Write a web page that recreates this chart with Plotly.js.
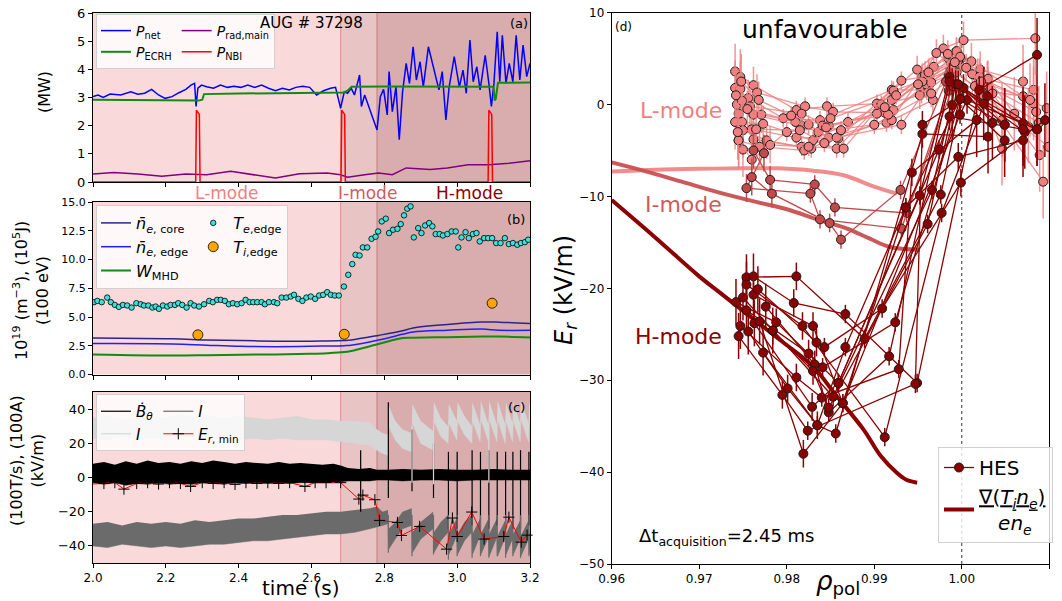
<!DOCTYPE html>
<html><head><meta charset="utf-8">
<script src="https://cdn.plot.ly/plotly-3.0.1.min.js"></script>
<style>body{margin:0;padding:0;background:#fff}#chart{width:1062px;height:601px}</style>
</head><body><div id="chart"></div>
<script>
// ---------------- panel (a) ----------------
const pnetT = [2.000,2.014,2.028,2.047,2.076,2.104,2.123,2.142,2.161,2.180,2.198,2.217,2.236,2.255,2.269,2.279,2.283,2.288,2.298,2.312,2.331,2.350,2.369,2.387,2.406,2.425,2.444,2.463,2.482,2.501,2.520,2.539,2.557,2.576,2.595,2.614,2.633,2.652,2.666,2.680,2.690,2.699,2.709,2.718,2.732,2.737,2.746,2.756,2.770,2.780,2.789,2.798,2.808,2.813,2.822,2.832,2.841,2.850,2.860,2.869,2.879,2.888,2.898,2.907,2.921,2.935,2.950,2.959,2.969,2.978,2.992,3.006,3.016,3.025,3.035,3.044,3.054,3.063,3.077,3.087,3.094,3.101,3.110,3.117,3.124,3.134,3.143,3.153,3.162,3.172,3.181,3.191,3.200];
const pnetV = [3.03,3.09,3.00,3.12,3.09,3.20,3.12,3.15,3.29,3.09,2.97,3.03,3.17,3.29,3.44,3.50,2.68,3.33,3.44,3.38,3.33,3.44,3.36,3.40,3.36,3.44,3.36,3.44,3.33,3.24,3.33,3.27,3.36,3.40,3.36,3.09,3.24,3.33,3.36,2.62,3.20,3.15,3.33,3.09,3.80,2.68,3.09,2.74,2.20,1.85,3.03,3.29,2.38,3.92,2.50,3.38,1.50,3.20,4.21,3.50,4.80,3.62,4.27,3.38,4.80,4.09,3.27,3.92,2.20,3.38,4.45,3.38,3.97,3.15,5.04,3.56,4.09,3.27,4.50,3.50,2.68,3.50,5.33,3.56,5.21,3.50,4.21,3.56,5.21,3.62,4.86,3.74,4.21];
const ecrhT = [2.0,2.1,2.2,2.29,2.300,2.305,2.4,2.5,2.6,2.69,2.70,2.71,2.8,2.9,3.0,3.100,3.103,3.106,3.112,3.15,3.2];
const ecrhV = [2.92,2.91,2.90,2.89,2.92,3.12,3.14,3.16,3.17,3.18,3.25,3.38,3.39,3.38,3.38,3.38,2.90,2.95,3.52,3.53,3.53];
const pradT = [2.0,2.057,2.123,2.189,2.255,2.312,2.378,2.425,2.501,2.567,2.643,2.680,2.699,2.746,2.784,2.822,2.860,2.926,2.973,3.030,3.087,3.143,3.2];
const pradV = [0.28,0.34,0.28,0.20,0.28,0.26,0.38,0.28,0.14,0.29,0.32,0.26,0.17,0.26,0.32,0.26,0.50,0.44,0.50,0.61,0.61,0.67,0.75];
const nbiT = [2.0,2.282,2.284,2.288,2.292,2.294,2.681,2.683,2.687,2.691,2.693,3.085,3.087,3.091,3.095,3.097,3.2];
const nbiV = [0,0,2.55,2.45,2.40,0,0,2.55,2.45,2.40,0,0,2.55,2.45,2.40,0,0];

// ---------------- panel (b) ----------------
const neT = [2.0,2.217,2.312,2.406,2.501,2.595,2.643,2.690,2.709,2.784,2.850,2.879,2.973,3.068,3.115,3.2];
const neCore = [3.17,3.10,3.00,2.95,2.90,2.90,2.92,2.96,3.00,3.40,3.80,4.05,4.35,4.56,4.55,4.44];
const neEdge = [2.69,2.66,2.55,2.45,2.42,2.45,2.48,2.51,2.55,3.00,3.50,3.70,3.85,3.95,3.85,3.85];
const wMhd = [1.75,1.65,1.68,1.72,1.75,1.80,1.85,1.95,2.05,2.65,3.17,3.20,3.25,3.30,3.30,3.22];
const teT = [2.003,2.012,2.024,2.039,2.049,2.060,2.071,2.082,2.094,2.106,2.119,2.131,2.140,2.152,2.163,2.172,2.181,2.192,2.204,2.213,2.225,2.234,2.245,2.257,2.268,2.278,2.291,2.305,2.319,2.329,2.341,2.351,2.362,2.373,2.384,2.396,2.408,2.419,2.430,2.440,2.451,2.463,2.472,2.483,2.497,2.506,2.518,2.531,2.543,2.552,2.564,2.575,2.586,2.598,2.610,2.621,2.632,2.643,2.653,2.664,2.675,2.689,2.701,2.712,2.721,2.732,2.741,2.753,2.765,2.776,2.783,2.793,2.804,2.813,2.824,2.836,2.845,2.854,2.863,2.872,2.881,2.893,2.902,2.912,2.923,2.932,2.941,2.952,2.961,2.973,2.985,2.996,3.003,3.012,3.023,3.032,3.043,3.053,3.062,3.074,3.085,3.096,3.107,3.119,3.131,3.142,3.153,3.165,3.175,3.186,3.195];
const teV = [6.29,6.40,6.29,6.69,6.29,6.05,5.88,6.05,6.00,5.82,6.20,6.11,6.00,6.00,5.82,5.91,5.71,6.00,5.91,6.05,6.05,6.20,6.05,5.82,6.20,6.00,5.91,6.11,6.40,6.29,6.49,6.49,6.40,6.11,6.20,6.11,6.20,6.49,6.29,6.29,6.29,6.29,6.11,6.29,6.29,6.20,6.69,6.69,6.78,6.93,6.58,6.40,6.69,6.78,6.58,6.87,6.93,7.16,6.93,6.87,6.87,7.65,8.67,9.60,10.41,10.35,11.05,11.05,11.80,11.98,12.44,13.31,13.55,12.30,12.59,12.67,13.08,13.84,14.42,14.62,11.92,12.73,12.30,12.96,13.17,12.88,12.21,12.21,12.09,12.21,12.44,12.44,11.05,11.92,12.38,11.86,12.21,12.30,11.57,11.86,11.86,11.86,11.43,11.43,11.86,11.34,11.43,11.28,11.43,11.51,11.72];
const tiT = [2.288,2.690,3.096];
const tiV = [3.45,3.50,6.20];
const tiErr = [0.25,0.25,0.3];

// ---------------- panel (c) ----------------
const bdT = [2.0,2.03,2.06,2.09,2.12,2.15,2.18,2.21,2.24,2.27,2.30,2.33,2.36,2.39,2.42,2.45,2.48,2.51,2.54,2.57,2.60,2.63,2.66,2.68,2.70,2.73,2.76,2.78,2.81,2.85,2.90,2.95,3.0,3.05,3.10,3.15,3.2];
const bdHi = [8,9,7.5,9.5,8,10,8.5,9,8,9.5,8.5,10,9,8,9,8.5,8,9,8,8.5,8,7.5,8,7,5.5,5,5.5,4.5,4.5,5,4.5,5,4.5,4.5,5,4.5,4.5];
const bdLo = [-3,-4,-3,-4.5,-3.5,-4,-3,-4,-3.5,-4,-3,-3.5,-4,-3,-3.5,-3,-3.5,-3,-3.5,-3,-3,-3,-3,-2.5,-2,-2,-2,-1.5,-1.5,-2,-1.5,-1.5,-2,-1.5,-1.5,-1.5,-1.5];
const bandT = [2.0,2.04,2.08,2.12,2.16,2.2,2.24,2.28,2.32,2.36,2.4,2.44,2.48,2.52,2.56,2.6,2.64,2.68,2.72,2.76,2.78,2.795,2.810,2.812,2.83,2.85,2.875,2.877,2.90,2.934,2.936,2.955,2.975,2.977,2.999,3.001,3.02,3.040,3.042,3.063,3.065,3.086,3.088,3.109,3.111,3.132,3.134,3.152,3.154,3.173,3.175,3.196,3.198,3.2];
const ilHi = [35,36,34,35,36,35,37,35,36,35,36,35,34,35,36,34,34,33,33,32,28,26,25,42,33,28,26,43,33,27,44,35,30,43,33,44,36,30,44,31,45,31,45,31,45,31,44,32,44,32,45,32,44,42];
const ilLo = [23,22,24,22,23,22,23,24,22,23,22,23,22,23,22,22,22,21,20,19,16,14,13,30,22,17,15,32,20,16,33,24,20,32,22,33,25,20,33,21,34,21,34,21,34,20,33,21,33,21,34,21,33,32];
const dkHi = [-27,-26,-28,-26,-27,-26,-27,-25,-26,-25,-24,-24,-23,-22,-22,-21,-20,-20,-19,-18,-17,-20,-19,-30,-26,-20,-18,-32,-26,-20,-32,-26,-22,-33,-24,-33,-26,-22,-33,-24,-33,-24,-33,-24,-34,-25,-33,-25,-33,-25,-34,-25,-33,-32];
const dkLo = [-40,-41,-39,-40,-41,-40,-41,-40,-39,-39,-38,-37,-37,-36,-35,-34,-33,-33,-32,-30,-29,-28,-27,-42,-36,-30,-28,-44,-36,-30,-44,-37,-32,-45,-34,-45,-37,-32,-45,-34,-45,-35,-46,-35,-46,-35,-45,-36,-45,-36,-46,-36,-45,-44];
const elmT = [2.735,2.811,2.876,2.935,2.976,3.000,3.041,3.064,3.087,3.110,3.133,3.153,3.174,3.197];
const elmBdHi = [16,44,28,20,15,15,16,15,16,15,15,15,16,15];
const elmBdLo = [-20,-12,-8,-12,-30,-30,-28,-30,-30,-28,-30,-30,-30,-28];
const elmIlT = [2.876,2.935,3.087];
const elmIlHi = [30,30,30];
const elmIlLo = [-3,-4,-3];
const elmDkT = [2.811,2.876,2.935,2.976,3.000,3.041,3.064,3.087,3.110,3.133,3.153,3.174,3.197];
const elmDkHi = [-22,-22,-22,-22,-22,-22,-22,-22,-22,-22,-22,-22,-22];
const elmDkLo = [-44,-46,-45,-48,-46,-47,-46,-47,-46,-47,-46,-47,-46];
const erT = [1.985,2.03,2.06,2.085,2.12,2.15,2.18,2.21,2.24,2.268,2.30,2.33,2.36,2.39,2.42,2.45,2.48,2.51,2.54,2.582,2.61,2.64,2.68,2.730,2.741,2.774,2.787,2.836,2.847,2.897,2.971,2.987,3.000,3.040,3.074,3.128,3.142,3.176,3.192];
const erV = [-4.0,-3.5,-3.0,-6.8,-3.5,-3.0,-3.8,-3.0,-3.5,-5.2,-3.0,-3.5,-3.0,-4.0,-3.0,-3.5,-3.0,-3.5,-3.0,-5.2,-3.0,-3.0,-3.0,-12.6,-10.3,-13.0,-25.1,-26.3,-33.9,-28.6,-41.9,-23.7,-34.5,-20.2,-36.0,-34.5,-23.2,-37.8,-33.7];

// ---------------- panel (d) ----------------
const gradLRho = [0.960,0.965,0.970,0.975,0.979,0.983,0.9865,0.9899,0.9926];
const gradLEr = [-7.3,-7.1,-7.0,-6.95,-6.95,-7.2,-7.7,-8.9,-9.7];
const gradIRho = [0.960,0.964,0.968,0.972,0.9765,0.980,0.9835,0.9869,0.9895,0.9918,0.9952];
const gradIEr = [-6.3,-7.3,-8.4,-9.5,-10.6,-11.4,-12.5,-13.5,-14.6,-15.5,-15.8];
const gradHRho = [0.960,0.965,0.970,0.9724,0.9792,0.983,0.9855,0.9888,0.9907,0.9926,0.9936,0.9949];
const gradHEr = [-10.4,-14.5,-18.7,-20.5,-25.6,-28.5,-31.5,-35.4,-38.2,-40.1,-40.8,-41.15];
const lRho = [
[0.9741,0.9762,0.9811,0.9846,0.9903,0.9949,0.9979,1.0002,1.0084],
[0.9747,0.9766,0.9821,0.9853,0.9912,0.9968,0.9994,1.0021,1.0070],
[0.9741,0.9756,0.9796,0.9838,0.9920,0.9954,0.9985,1.0029,1.0082],
[0.9747,0.9758,0.9817,0.9848,0.9922,0.9960,0.9999,1.0021,1.0070],
[0.9743,0.9762,0.9817,0.9836,0.9914,0.9967,0.9994,1.0011,1.0082],
[0.9749,0.9771,0.9825,0.9848,0.9920,0.9971,0.9990,1.0018,1.0097],
[0.9745,0.9760,0.9811,0.9859,0.9931,0.9955,0.9988,1.0030,1.0046],
[0.9741,0.9773,0.9830,0.9857,0.9922,0.9961,0.9996,1.0025,1.0085],
[0.9749,0.9762,0.9817,0.9870,0.9920,0.9958,0.9984,1.0012,1.0046],
[0.9750,0.9777,0.9828,0.9841,0.9916,0.9959,0.9992,1.0020,1.0089],
[0.9745,0.9769,0.9820,0.9857,0.9931,0.9965,0.9994,1.0020,1.0093],
[0.9750,0.9781,0.9825,0.9865,0.9908,0.9952,0.9985,1.0025,1.0099],
[0.9745,0.9760,0.9800,0.9845,0.9903,0.9955,0.9988,1.0015,1.0076],
[0.9742,0.9755,0.9810,0.9850,0.9925,0.9962,0.9998,1.0030,1.0060],
[0.9748,0.9768,0.9805,0.9862,0.9912,0.9950,0.9992,1.0022,1.0078],
[0.9744,0.9765,0.9815,0.9843,0.9900,0.9965,1.0005,1.0035,1.0088]];
const lEr = [
[3.6,2.1,-0.6,-0.2,0.1,3.8,6.1,7.0,7.2],
[3.0,1.3,-0.2,-0.8,-0.9,4.1,5.8,3.8,2.5],
[1.8,0.7,-1.5,-1.7,1.6,1.6,5.0,2.7,1.6],
[1.7,-0.2,-1.0,-2.3,-0.6,2.0,5.0,1.6,0.9],
[0.0,-1.1,-2.3,-3.0,-2.0,0.5,5.8,4.7,0.1],
[0.4,-1.1,-2.2,-3.6,-1.7,5.6,4.2,3.0,-0.4],
[-1.0,-2.7,-3.6,-3.7,2.6,3.0,4.5,2.0,-1.7],
[-1.9,-2.1,-3.9,-4.8,1.5,2.8,4.8,2.2,-0.8],
[-1.9,-3.8,-4.6,-1.9,0.5,3.2,5.5,3.3,-4.8],
[-2.8,-3.9,-4.8,-2.3,-1.1,2.2,4.0,3.0,-5.5],
[-3.9,-4.6,-5.0,-3.6,-2.2,2.4,3.5,1.5,-8.4],
[-4.9,-4.4,-4.6,-4.8,0.0,1.0,3.2,1.0,-4.6],
[-3.9,-6.0,-3.0,-2.5,-1.0,2.5,3.8,2.0,-2.4],
[1.0,-0.5,-1.9,-1.5,1.0,3.5,5.2,2.8,-1.0],
[2.5,0.5,-1.2,-2.8,-0.3,2.2,4.6,2.5,0.5],
[-3.0,-2.7,-2.8,-4.2,-2.2,1.2,4.0,1.2,-2.0]];
const lErr = [3,2,1,1,1,1.5,1.5,2,4];
const iRho = [
[0.9762,0.9781,0.9832,0.9855,0.9937,0.9985],
[0.9774,0.9754,0.9827,0.9838,0.9931,0.9990],
[0.9760,0.9783,0.9849,0.9862,0.9930,0.9982]];
const iEr = [
[-5.0,-8.2,-8.7,-11.2,-11.8,1.5],
[-5.3,-9.1,-9.7,-12.5,-13.5,2.0],
[-7.9,-9.7,-12.9,-14.7,-9.3,2.5]];
const iErr = [2,1.5,1,1,1,1.5];
const hRho = [
[0.9742,0.9788,0.9859,0.9952,0.9986,1.0049],
[0.9750,0.9784,0.9853,0.9966,0.9993,1.0070],
[0.9754,0.9811,0.9889,0.9976,1.0002,1.0072],
[0.9762,0.9808,0.9867,0.9949,1.0020,1.0086],
[0.9754,0.9818,0.9912,0.9977,1.0029,1.0086],
[0.9762,0.9830,0.9864,0.9936,0.9996,1.0070],
[0.9767,0.9834,0.9843,0.9909,0.9999,1.0095],
[0.9754,0.9825,0.9841,0.9924,0.9998,1.0049],
[0.9776,0.9832,0.9848,0.9917,0.9986,1.0025],
[0.9747,0.9811,0.9840,0.9928,0.9943,1.0017],
[0.9756,0.9801,0.9835,0.9856,0.9955,1.0030],
[0.9745,0.9795,0.9824,0.9947,0.9955,0.9989],
[0.9763,0.9829,0.9859,0.9974,0.9986,1.0070],
[0.9769,0.9819,0.9864,0.9998,1.0006,1.0086],
[0.9773,0.9835,0.9867,0.9936,0.9998,1.0049],
[0.9784,0.9830,0.9848,0.9961,0.9996,1.0035]];
const hEr = [
[-21.5,-23.7,-30.3,-9.9,3.0,-2.2],
[-21.0,-24.6,-31.8,-9.3,2.2,-2.05],
[-18.8,-18.7,-25.5,-9.8,1.8,-3.0],
[-18.7,-21.6,-22.8,-30.3,1.6,5.4],
[-19.6,-24.1,-36.2,-11.8,0.9,-2.7],
[-20.7,-24.1,-32.5,-11.2,-5.7,-3.9],
[-20.1,-25.9,-26.4,-22.2,-8.5,-1.7],
[-22.4,-27.1,-28.6,-23.7,0.6,-2.2],
[-22.0,-28.3,-33.5,-27.4,2.5,0.1],
[-24.1,-29.7,-31.9,-28.8,-7.4,-1.7],
[-24.7,-30.9,-34.9,-35.8,-3.2,-3.5],
[-25.2,-31.6,-35.5,-30.4,-2.2,-0.05],
[-23.8,-32.9,-30.3,-4.9,-1.3,-2.7],
[-23.6,-38.0,-32.5,-1.1,0.5,-2.7],
[-27.0,-34.9,-26.4,-11.2,0.6,-3.9],
[-24.6,-29.0,-33.0,-13.0,2.2,-2.0]];
const hErr = [2.5,1.5,1,1,1.5,4];

// ---------------- layout helpers ----------------
const W = 1062, H = 601;
const px = v => v / W, py = v => 1 - v / H;
const F = 'DejaVu Sans, Verdana, sans-serif';
const traces = [];

function spikes(t, hi, lo) {
  const x = [], y = [];
  for (let i = 0; i < t.length; i++) { x.push(t[i], t[i], null); y.push(hi[i], lo[i], null); }
  return {x, y};
}

// (a)
traces.push({x: pnetT, y: pnetV, xaxis: 'x', yaxis: 'y', mode: 'lines', line: {color: '#0000ff', width: 1.5},
  name: '<i>P</i><sub>net</sub>', legend: 'legend', legendgroup: 'a1'});
traces.push({x: ecrhT, y: ecrhV, xaxis: 'x', yaxis: 'y', mode: 'lines', line: {color: '#138a13', width: 2},
  name: '<i>P</i><sub>ECRH</sub>', legend: 'legend', legendgroup: 'a1'});
traces.push({x: pradT, y: pradV, xaxis: 'x', yaxis: 'y', mode: 'lines', line: {color: '#800080', width: 1.5},
  name: '<i>P</i><sub>rad,main</sub>', legend: 'legend', legendgroup: 'a2'});
traces.push({x: nbiT, y: nbiV, xaxis: 'x', yaxis: 'y', mode: 'lines', line: {color: '#ff0000', width: 1.5},
  name: '<i>P</i><sub>NBI</sub>', legend: 'legend', legendgroup: 'a2'});

// (b)
traces.push({x: neT, y: neCore, xaxis: 'x2', yaxis: 'y2', mode: 'lines', line: {color: '#26268c', width: 1.5, shape: 'spline'},
  name: '<i>n̄</i><sub><i>e</i>, core</sub>', legend: 'legend2', legendgroup: 'b1'});
traces.push({x: neT, y: neEdge, xaxis: 'x2', yaxis: 'y2', mode: 'lines', line: {color: '#1f1fff', width: 1.5, shape: 'spline'},
  name: '<i>n̄</i><sub><i>e</i>, edge</sub>', legend: 'legend2', legendgroup: 'b1'});
traces.push({x: neT, y: wMhd, xaxis: 'x2', yaxis: 'y2', mode: 'lines', line: {color: '#138a13', width: 2, shape: 'spline'},
  name: '<i>W</i><sub>MHD</sub>', legend: 'legend2', legendgroup: 'b1'});
traces.push({x: teT, y: teV, xaxis: 'x2', yaxis: 'y2', mode: 'markers',
  marker: {color: '#3ee0da', size: 5.5, line: {color: '#000', width: 0.8}},
  name: '<i>T</i><sub><i>e</i>,edge</sub>', legend: 'legend2', legendgroup: 'b2'});
traces.push({x: tiT, y: tiV, xaxis: 'x2', yaxis: 'y2', mode: 'markers',
  marker: {color: '#ffa500', size: 10, line: {color: '#000', width: 0.8}},
  error_y: {type: 'data', array: tiErr, color: '#ffa500', thickness: 1.5, width: 0},
  name: '<i>T</i><sub><i>i</i>,edge</sub>', legend: 'legend2', legendgroup: 'b2'});

// (c)
function band(t, hi, lo, color) {
  traces.push({x: t, y: hi, xaxis: 'x3', yaxis: 'y3', mode: 'lines', line: {width: 0, color: color}, showlegend: false, hoverinfo: 'skip'});
  traces.push({x: t, y: lo, xaxis: 'x3', yaxis: 'y3', mode: 'lines', line: {width: 0.5, color: color}, fill: 'tonexty', fillcolor: color, showlegend: false, hoverinfo: 'skip'});
}
band(bandT, ilHi, ilLo, '#d6d6d6');
band(bandT, dkHi, dkLo, '#6b6b6b');
band(bdT, bdHi, bdLo, '#000000');
const sB = spikes(elmT, elmBdHi, elmBdLo);
traces.push({x: sB.x, y: sB.y, xaxis: 'x3', yaxis: 'y3', mode: 'lines', line: {color: '#000', width: 1.2},
  name: '<i>Ḃ</i><sub><i>θ</i></sub>', legend: 'legend3', legendgroup: 'c1'});
const sI = spikes(elmIlT, elmIlHi, elmIlLo);
traces.push({x: sI.x, y: sI.y, xaxis: 'x3', yaxis: 'y3', mode: 'lines', line: {color: '#d6d6d6', width: 1.2},
  name: '<i>I</i>', legend: 'legend3', legendgroup: 'c1'});
const sD = spikes(elmDkT, elmDkHi, elmDkLo);
traces.push({x: sD.x, y: sD.y, xaxis: 'x3', yaxis: 'y3', mode: 'lines', line: {color: '#6b6b6b', width: 1.2},
  name: '<i>I</i>', legend: 'legend3', legendgroup: 'c2'});
traces.push({x: erT, y: erV, xaxis: 'x3', yaxis: 'y3', mode: 'lines+markers', cliponaxis: false,
  line: {color: '#ff0000', width: 1},
  marker: {symbol: 'cross-thin', size: 8, color: '#000', line: {color: '#000', width: 1}},
  name: '<i>E</i><sub><i>r</i>, min</sub>', legend: 'legend3', legendgroup: 'c2'});

// (d)
traces.push({x: gradLRho, y: gradLEr, xaxis: 'x4', yaxis: 'y4', mode: 'lines', line: {color: 'rgba(240,128,128,0.9)', width: 4, shape: 'spline'}, showlegend: false});
traces.push({x: gradIRho, y: gradIEr, xaxis: 'x4', yaxis: 'y4', mode: 'lines', line: {color: 'rgba(200,80,80,0.95)', width: 4, shape: 'spline'}, showlegend: false});
traces.push({x: gradHRho, y: gradHEr, xaxis: 'x4', yaxis: 'y4', mode: 'lines', line: {color: '#8b0000', width: 4, shape: 'spline'},
  name: '<span style="text-decoration:underline">∇(<i>T<sub>i</sub>n<sub>e</sub></i>)</span><br>   <i>en<sub>e</sub></i>', legend: 'legend4', legendrank: 2});
function profiles(rhoSet, erSet, err, lineCol, markCol, legendFirst) {
  for (let k = 0; k < rhoSet.length; k++) {
    traces.push({x: rhoSet[k], y: erSet[k], xaxis: 'x4', yaxis: 'y4', mode: 'lines+markers',
      line: {color: lineCol, width: 1.3},
      marker: {color: markCol, size: 9, line: {color: '#1a1a1a', width: 1}},
      error_y: {type: 'data', array: err, color: lineCol, thickness: 1.5, width: 0},
      showlegend: legendFirst && k === 0, name: 'HES', legend: 'legend4', legendrank: 1});
  }
}
profiles(lRho, lEr, lErr, 'rgba(240,128,128,0.85)', '#f08080', false);
profiles(iRho, iEr, iErr, '#c24a4a', '#c24a4a', false);
profiles(hRho, hEr, hErr, '#8b0000', '#8b0000', true);

// ---------------- axes ----------------
const axBase = {showline: true, mirror: true, linecolor: '#000', linewidth: 1, ticks: 'outside', ticklen: 4, tickwidth: 1,
  tickcolor: '#000', showgrid: false, zeroline: false, tickfont: {family: F, size: 12, color: '#000'}};
const xL = [px(93), px(530)];
const tTicks = [2.0, 2.2, 2.4, 2.6, 2.8, 3.0, 3.2];
const layout = {
  width: W, height: H, margin: {l: 0, r: 0, t: 0, b: 0}, paper_bgcolor: '#fff', plot_bgcolor: '#fff',
  font: {family: F, color: '#000'}, showlegend: true,
  xaxis: Object.assign({}, axBase, {domain: xL, anchor: 'y', range: [2, 3.2], tickvals: tTicks, showticklabels: false}),
  yaxis: Object.assign({}, axBase, {domain: [py(182), py(13)], anchor: 'x', range: [0, 6], tickvals: [0,1,2,3,4,5,6], tickfont: {family: F, size: 13}}),
  xaxis2: Object.assign({}, axBase, {domain: xL, anchor: 'y2', range: [2, 3.2], tickvals: tTicks, showticklabels: false}),
  yaxis2: Object.assign({}, axBase, {domain: [py(374.5), py(202)], anchor: 'x2', range: [0, 15],
    tickvals: [0, 2.5, 5, 7.5, 10, 12.5, 15], ticktext: ['0.0','2.5','5.0','7.5','10.0','12.5','15.0'], tickfont: {family: F, size: 11}}),
  xaxis3: Object.assign({}, axBase, {domain: xL, anchor: 'y3', range: [2, 3.2], tickvals: tTicks,
    ticktext: ['2.0','2.2','2.4','2.6','2.8','3.0','3.2'], tickfont: {family: F, size: 12}}),
  yaxis3: Object.assign({}, axBase, {domain: [py(563), py(392)], anchor: 'x3', range: [-50, 50], tickvals: [-40,-20,0,20,40], tickfont: {family: F, size: 13}}),
  xaxis4: Object.assign({}, axBase, {domain: [px(611.7), px(1049.3)], anchor: 'y4', range: [0.96, 1.01],
    tickvals: [0.96,0.97,0.98,0.99,1.00,1.01], ticktext: ['0.96','0.97','0.98','0.99','1.00','1.01']}),
  yaxis4: Object.assign({}, axBase, {domain: [py(564), py(12.6)], anchor: 'x4', range: [-50, 10], tickvals: [-50,-40,-30,-20,-10,0,10]}),
  shapes: [], annotations: []
};
const legBase = {orientation: 'h', traceorder: 'grouped', bgcolor: 'rgba(255,255,255,0.8)', bordercolor: '#d0d0d0', borderwidth: 1,
  xanchor: 'left', yanchor: 'top', itemwidth: 30, tracegroupgap: 0};
layout.legend = Object.assign({}, legBase, {x: px(96), y: py(14), font: {family: F, size: 14}});
layout.legend2 = Object.assign({}, legBase, {x: px(96), y: py(205), font: {family: F, size: 16}});
layout.legend3 = Object.assign({}, legBase, {x: px(96), y: py(394), font: {family: F, size: 15}});
layout.legend4 = {x: px(938), y: py(447), xanchor: 'left', yanchor: 'top', bgcolor: 'rgba(255,255,255,0.8)', bordercolor: '#d0d0d0',
  borderwidth: 1, font: {family: F, size: 20}, itemwidth: 30, traceorder: 'normal'};

// shaded phases
[['x', 'y'], ['x2', 'y2'], ['x3', 'y3']].forEach(([xa, ya]) => {
  layout.shapes.push({type: 'rect', xref: xa, yref: ya + ' domain', x0: 2.0, x1: 2.68, y0: 0, y1: 1, fillcolor: '#f9d9d9', line: {width: 0}, layer: 'below'});
  layout.shapes.push({type: 'rect', xref: xa, yref: ya + ' domain', x0: 2.68, x1: 2.78, y0: 0, y1: 1, fillcolor: '#e9c4c4', line: {width: 0}, layer: 'below'});
  layout.shapes.push({type: 'rect', xref: xa, yref: ya + ' domain', x0: 2.78, x1: 3.2, y0: 0, y1: 1, fillcolor: '#d9adad', line: {width: 0}, layer: 'below'});
  layout.shapes.push({type: 'line', xref: xa, yref: ya + ' domain', x0: 2.68, x1: 2.68, y0: 0, y1: 1, line: {color: '#e59a9a', width: 1.2}, layer: 'below'});
  layout.shapes.push({type: 'line', xref: xa, yref: ya + ' domain', x0: 2.78, x1: 2.78, y0: 0, y1: 1, line: {color: '#c48585', width: 1.2}, layer: 'below'});
});
layout.shapes.push({type: 'line', xref: 'x4', yref: 'y4 domain', x0: 1.0, x1: 1.0, y0: 0, y1: 1, line: {color: '#333', width: 1, dash: 'dot'}, layer: 'below'});

function ann(text, x, y, size, color, extra) {
  layout.annotations.push(Object.assign({text: text, xref: 'paper', yref: 'paper', x: px(x), y: py(y), showarrow: false,
    xanchor: 'center', yanchor: 'middle', font: {family: F, size: size, color: color || '#000'}}, extra || {}));
}
ann('AUG # 37298', 311, 23, 15);
ann('(a)', 519, 24, 13);
ann('(b)', 516, 219, 13);
ann('(c)', 516, 407, 13);
ann('L-mode', 227, 193, 17, '#f08080');
ann('I-mode', 367, 193, 17, '#cd5c5c');
ann('H-mode', 469, 193, 17, '#8b0000');
ann('(MW)', 45, 92, 16, '#000', {textangle: -90});
ann('10<sup>19</sup> (m<sup>−3</sup>), (10<sup>5</sup>J)<br>(100 eV)', 31, 291, 16, '#000', {textangle: -90});
ann('(100T/s), (100A)<br>(kV/m)', 27, 461, 16, '#000', {textangle: -90});
ann('time (s)', 301, 588, 20);
ann('unfavourable', 825, 30, 25);
ann('(d)', 623, 27, 12);
ann('L-mode', 681, 110, 22, '#f08080');
ann('I-mode', 683, 205, 22, '#cd5c5c');
ann('H-mode', 678, 337, 22, '#8b0000');
ann('Δt<sub>acquisition</sub>=2.45 ms', 637, 537, 18, '#000', {xanchor: 'left'});
ann('<i>E<sub>r</sub></i> (kV/m)', 565, 290, 24, '#000', {textangle: -90});
ann('<i>ρ</i><sub>pol</sub>', 838, 582, 26, '#000', {yanchor: 'middle'});

Plotly.newPlot('chart', traces, layout, {displayModeBar: false, staticPlot: true});
</script></body></html>
